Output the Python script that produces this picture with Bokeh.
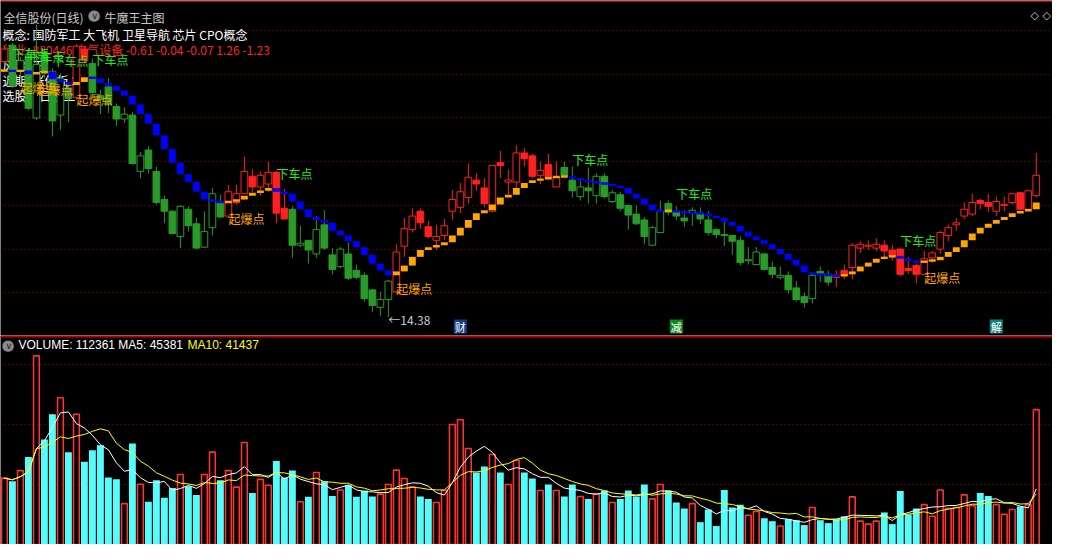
import numpy as np
import pandas as pd
from bokeh.plotting import figure
from bokeh.layouts import column
from bokeh.models import Range1d, FixedTicker, Label, Span
from bokeh.core.properties import value
from bokeh.embed import file_html
from bokeh.resources import INLINE

# ---------------- data ----------------
opens = [
    24.90, 25.58, 24.54, 25.14, 22.58, 25.30, 24.50, 22.70, 23.82, 23.42,
    25.42, 24.82, 23.50, 23.86, 23.06, 22.54, 22.70, 20.38, 21.26, 20.38,
    19.22, 18.74, 17.70, 18.82, 18.22, 17.26, 18.06, 19.10, 18.54, 19.10,
    19.46, 20.18, 19.74, 19.86, 20.34, 18.86, 18.82, 17.34, 17.54, 16.98,
    18.18, 16.94, 16.46, 16.98, 16.30, 16.10, 15.50, 14.78, 15.10, 15.42,
    17.30, 17.98, 18.74, 18.10, 17.54, 17.74, 18.74, 18.90, 19.30, 20.02,
    19.70, 18.74, 20.74, 19.94, 19.94, 21.14, 21.02, 20.22, 20.66, 19.74,
    20.54, 20.02, 19.34, 19.70, 19.38, 20.18, 19.14, 19.42, 18.98, 18.62,
    18.38, 17.34, 17.86, 19.06, 18.74, 18.46, 18.66, 18.66, 18.38, 17.98,
    17.78, 17.74, 17.54, 16.70, 16.54, 16.98, 16.42, 16.02, 16.10, 15.58,
    15.22, 15.14, 16.26, 16.14, 16.10, 16.30, 16.42, 17.22, 17.30, 17.22,
    17.34, 17.14, 17.18, 16.38, 16.50, 16.14, 16.82, 17.18, 17.74, 18.18,
    18.54, 18.62, 19.18, 19.10, 18.74, 18.98, 19.10, 19.50, 18.82, 19.38,
]
highs = [
    25.54, 25.66, 25.10, 25.34, 26.42, 25.42, 24.62, 24.42, 24.02, 25.62,
    25.50, 25.02, 23.74, 24.22, 23.18, 23.02, 22.82, 21.18, 21.42, 20.58,
    19.38, 18.78, 18.98, 18.94, 18.46, 18.74, 19.70, 19.42, 19.82, 19.82,
    20.98, 20.46, 20.38, 20.78, 20.42, 19.66, 18.94, 18.14, 17.54, 18.54,
    18.78, 17.22, 17.26, 17.46, 16.54, 16.22, 15.50, 15.42, 15.90, 17.38,
    18.46, 18.86, 18.86, 18.34, 18.18, 18.42, 19.62, 19.90, 20.70, 20.30,
    20.10, 20.62, 21.22, 20.46, 21.46, 21.34, 21.10, 20.78, 21.10, 20.78,
    20.78, 20.58, 20.02, 20.54, 20.30, 20.30, 19.62, 19.54, 19.02, 18.98,
    18.50, 18.14, 19.18, 19.18, 18.94, 18.78, 18.90, 18.90, 18.74, 18.06,
    18.30, 17.74, 17.70, 17.26, 17.26, 17.02, 16.66, 16.46, 16.26, 15.86,
    15.38, 16.18, 16.46, 16.30, 16.30, 16.54, 17.42, 17.50, 17.54, 17.62,
    17.54, 17.34, 17.22, 16.86, 16.58, 17.10, 17.10, 17.94, 18.18, 18.46,
    19.10, 19.46, 19.26, 19.46, 19.34, 19.34, 19.50, 19.54, 19.62, 21.14,
]
lows = [
    24.78, 23.82, 24.22, 22.90, 22.50, 24.22, 21.82, 22.10, 22.42, 23.34,
    24.82, 23.42, 22.74, 22.78, 22.26, 22.38, 20.66, 20.10, 20.30, 19.02,
    18.26, 17.78, 17.22, 17.90, 17.18, 17.22, 17.74, 18.46, 18.46, 19.02,
    19.46, 19.54, 19.38, 19.54, 18.26, 18.42, 16.82, 17.26, 16.58, 16.82,
    17.14, 16.14, 16.38, 15.90, 15.94, 15.02, 14.58, 14.42, 14.38, 15.34,
    16.86, 17.86, 18.02, 17.62, 17.14, 17.54, 18.38, 18.66, 19.06, 19.58,
    18.90, 18.70, 20.10, 19.42, 19.70, 20.58, 20.10, 19.86, 20.06, 19.74,
    20.18, 19.30, 19.18, 19.06, 19.06, 19.26, 19.06, 18.74, 17.98, 18.18,
    17.38, 17.30, 17.86, 18.58, 18.38, 18.10, 18.14, 18.22, 17.74, 17.62,
    17.30, 16.94, 16.50, 16.54, 16.54, 16.30, 15.98, 15.94, 15.34, 15.02,
    14.78, 14.94, 15.82, 15.66, 15.62, 15.94, 15.94, 17.02, 17.14, 17.10,
    16.82, 16.70, 16.06, 16.14, 15.78, 16.14, 16.62, 16.98, 17.50, 17.94,
    18.42, 18.54, 18.82, 18.70, 18.54, 18.74, 19.02, 18.78, 18.78, 19.30,
]
closes = [
    25.42, 23.90, 24.94, 22.98, 24.78, 24.42, 22.46, 24.22, 23.38, 25.54,
    24.94, 23.62, 23.34, 23.14, 22.54, 22.74, 20.70, 21.02, 20.50, 19.10,
    18.74, 17.82, 18.94, 18.14, 17.22, 17.90, 19.46, 18.50, 19.54, 19.46,
    20.38, 19.74, 20.22, 20.34, 18.66, 18.42, 17.34, 17.42, 17.14, 17.98,
    17.22, 16.34, 17.18, 15.98, 16.02, 15.14, 14.86, 15.10, 15.86, 17.06,
    18.02, 18.54, 18.26, 17.70, 17.70, 18.14, 19.22, 19.54, 20.14, 19.86,
    19.06, 20.62, 20.62, 20.02, 21.14, 20.90, 20.18, 20.42, 20.14, 20.14,
    20.22, 19.58, 19.74, 19.58, 20.18, 19.34, 19.50, 18.86, 18.58, 18.22,
    17.70, 18.06, 18.74, 18.70, 18.54, 18.34, 18.78, 18.42, 17.86, 17.78,
    17.74, 17.50, 16.62, 16.74, 17.06, 16.34, 16.14, 16.10, 15.50, 15.10,
    14.98, 16.10, 16.18, 15.82, 16.02, 16.10, 17.34, 17.38, 17.34, 17.38,
    17.10, 16.90, 16.14, 16.30, 16.14, 16.78, 17.02, 17.86, 18.06, 18.26,
    18.82, 19.10, 19.06, 18.94, 19.14, 19.02, 19.46, 18.82, 19.58, 20.22,
]
# candle colour state per bar (r = red, g = green)
trend = ("r" "gggggggg" "rr" "ggggggggggggggggg" "rrrrrrrr" "ggggggggggggg"
         "rrrrrrrrrrrrrrrrrrrrr" "gggggggggggggggggggggggggggggggggg"
         "rrrrrrrrrrrrrrrrrrrrrrrrrr")
# 牛魔王 trend line
signal_line = [
    24.54, 24.50, 24.54, 24.38, 24.46, 24.50, 24.18, 24.06, 23.94, 24.06,
    24.26, 24.22, 24.02, 23.90, 23.70, 23.50, 23.14, 22.74, 22.34, 21.86,
    21.30, 20.74, 20.26, 19.94, 19.54, 19.22, 19.14, 19.10, 19.14, 19.22,
    19.38, 19.50, 19.58, 19.70, 19.54, 19.46, 19.14, 18.82, 18.50, 18.38,
    18.26, 17.94, 17.74, 17.50, 17.26, 16.94, 16.58, 16.30, 16.10, 16.26,
    16.50, 16.86, 17.14, 17.26, 17.34, 17.46, 17.74, 18.06, 18.38, 18.66,
    18.78, 19.02, 19.30, 19.42, 19.70, 19.90, 20.02, 20.06, 20.14, 20.16,
    20.18, 20.10, 20.02, 19.94, 19.90, 19.86, 19.78, 19.70, 19.46, 19.26,
    19.02, 18.78, 18.74, 18.78, 18.70, 18.68, 18.66, 18.64, 18.55, 18.46,
    18.31, 18.14, 17.90, 17.70, 17.54, 17.38, 17.18, 16.98, 16.74, 16.50,
    16.22, 16.14, 16.12, 16.10, 16.06, 16.14, 16.26, 16.46, 16.62, 16.78,
    16.86, 16.90, 16.78, 16.70, 16.62, 16.70, 16.72, 16.86, 17.06, 17.26,
    17.54, 17.82, 18.06, 18.22, 18.38, 18.50, 18.66, 18.74, 18.82, 19.10,
]
volumes = [
    55300, 52650, 61560, 72900, 157140, 87480, 108540, 122310, 76950, 108540,
    68850, 78570, 82620, 55890, 54270, 34020, 84240, 50220, 35640, 53460,
    38880, 46980, 58320, 48600, 41310, 58320, 76950, 53460, 61560, 47790,
    85050, 42930, 54270, 49410, 69660, 55890, 61560, 35640, 39690, 59940,
    52650, 40500, 45360, 49410, 39690, 45000, 40000, 42000, 50000, 62000,
    55000, 48000, 40000, 38000, 35000, 45000, 100000, 104000, 80000, 60000,
    65000, 75000, 60000, 50000, 70000, 60000, 55000, 45000, 50000, 45000,
    40000, 50000, 40000, 38000, 42000, 45000, 35000, 38000, 45000, 40000,
    50000, 38000, 50000, 45000, 35000, 30000, 34020, 18630, 29160, 15390,
    45360, 30780, 33210, 24300, 27540, 21870, 19440, 15390, 21060, 20250,
    16200, 30780, 20250, 17820, 21060, 23490, 39690, 19440, 17010, 19440,
    26730, 17010, 44550, 25110, 29970, 33210, 23490, 45360, 29970, 30780,
    41310, 32400, 42930, 40500, 33210, 25110, 29160, 31590, 33210, 112361,
]
qibao_idx = [2, 4, 9, 28, 49, 115]            # 起爆点
xiache_idx = [1, 3, 6, 11, 34, 71, 84, 112]   # 下车点
badge_idx = [57, 84, 124]
badge_text = ["财", "减", "解"]
badge_color = ["#0D3F86", "#0F8A1F", "#11807F"]
price_grid = [26.18, 24.38, 22.58, 20.78, 18.98, 17.18, 15.38]
vol_grid = [50000, 100000, 150000]

# ---------------- build ----------------
CJK = "Noto Sans CJK SC"
O = np.array(opens); H = np.array(highs); L = np.array(lows); C = np.array(closes)
N = len(C)
idx = np.arange(N)
hollow = C > O
RED = "#FF2020"
GREEN = "#2A9A2A"
ccol = [RED if t == "r" else GREEN for t in trend[:N]]
fcol = ["#000000" if h else c for h, c in zip(hollow, ccol)]
btop = np.maximum(O, C)
bbot = np.minimum(O, C)

W = 1052
PH = 335
VH = 209
xr = Range1d(-0.49, 131.03)
YMIN, YMAX = 13.62, 27.42
px = (YMAX - YMIN) / PH  # price per screen pixel

p = figure(width=W, height=PH, x_range=xr, y_range=Range1d(YMIN, YMAX),
           output_backend="svg", toolbar_location=None, min_border=0,
           background_fill_color="#000000", border_fill_color="#000000",
           outline_line_color=None)
p.xaxis.visible = False
p.yaxis.visible = False
p.xgrid.visible = False
p.ygrid.ticker = FixedTicker(ticks=price_grid)
p.ygrid.grid_line_color = "#9A0000"
p.ygrid.grid_line_dash = "1 3"
p.ygrid.grid_line_width = 1

p.add_layout(Span(location=YMAX - px, dimension="width", line_color="#C00000", line_width=1))

def info(text, x, ytop, color, size="12px", font=CJK, level="underlay"):
    lab = Label(x=x, y=PH - ytop, x_units="screen", y_units="screen", text=text,
                text_color=color, text_font=font, text_font_size=size,
                text_baseline="top", text_align="left", level=level)
    p.add_layout(lab)

info("全信股份(日线)", 3, 8, "#C8C8C8", level="annotation")
info("●", 87, 5, "#8A8A8A", size="15px", font="DejaVu Sans", level="annotation")
info("∨", 91, 10, "#202020", size="9px", font="DejaVu Sans", level="annotation")
info("牛魔王主图", 104, 8, "#C8C8C8", level="annotation")
info("◇", 1042, 8, "#D0D0D0", size="11px", font="DejaVu Sans", level="annotation")
info("◇", 1030, 8, "#D0D0D0", size="11px", font="DejaVu Sans", level="annotation")
info("概念: 国防军工 大飞机 卫星导航 芯片 CPO概念", 2, 25, "#FFFFFF")
info("行业: 880446 电气设备 -0.61 -0.04 -0.07 1.26 -1.23", 2, 40, "#FF2020")
info("风险: 无", 2, 56, "#FFFFFF")
info("近期: 涨停板 3", 2, 71, "#FFFFFF")
info("选股: 5日线上", 2, 86, "#FFFFFF")

# candles
p.segment(x0=idx, y0=H, x1=idx, y1=L, line_color=ccol, line_width=1)
p.vbar(x=idx, top=btop, bottom=bbot, width=0.84, fill_color=fcol, line_color=ccol, line_width=1)

# trend line sticks (from previous value to current value)
sig = np.array(signal_line)
prev = np.concatenate([[sig[0]], sig[:-1]])
rising = sig >= prev
lo = np.minimum(sig, prev)
hi = np.maximum(sig, prev)
mid = (lo + hi) / 2
thin = (hi - lo) < 0.1
lo = np.where(thin, mid - 0.05, lo)
hi = np.where(thin, mid + 0.05, hi)
scol = ["#FFA500" if r else "#0000FF" for r in rising]
p.vbar(x=idx, top=hi, bottom=lo, width=0.86, fill_color=scol, line_color=None)

# signal labels
p.text(x=qibao_idx, y=[sig[i] - 0.7 for i in qibao_idx], text=["起爆点"] * len(qibao_idx),
       text_color="#FFA500", text_font=value(CJK), text_font_size="12px",
       text_align="left", text_baseline="middle")
p.text(x=xiache_idx, y=[sig[i] + 0.75 for i in xiache_idx], text=["下车点"] * len(xiache_idx),
       text_color="#22EE22", text_font=value(CJK), text_font_size="12px",
       text_align="left", text_baseline="middle")

# lowest low marker
li = int(np.argmin(L))
p.text(x=[li], y=[L[li] - 0.12], text=["←%.2f" % L[li]], text_color="#C8C8C8",
       text_font=value(CJK), text_font_size="12px", text_align="left", text_baseline="middle")

# event badges (kept fully inside the panel)
by = YMIN + 9 * px
p.rect(x=badge_idx, y=[by] * len(badge_idx), width=13, height=14,
       width_units="screen", height_units="screen", fill_color=badge_color, line_color=None)
p.text(x=badge_idx, y=[by] * len(badge_idx), text=badge_text, text_color="#FFFFFF",
       text_font=value(CJK), text_font_size="11px", text_align="center", text_baseline="middle")

# ---------------- volume panel ----------------
vol = np.array(volumes, dtype=float)
VMAX = 174150
v = figure(width=W, height=VH, x_range=xr, y_range=Range1d(0, VMAX),
           output_backend="svg", toolbar_location=None, min_border=0,
           background_fill_color="#000000", border_fill_color="#000000",
           outline_line_color=None)
v.xaxis.visible = False
v.yaxis.visible = False
v.xgrid.visible = False
v.ygrid.ticker = FixedTicker(ticks=vol_grid)
v.ygrid.grid_line_color = "#9A0000"
v.ygrid.grid_line_dash = "1 3"
v.add_layout(Span(location=VMAX * (1 - 1.0 / VH), dimension="width", line_color="#C00000", line_width=2))

v.vbar(x=idx[~hollow], top=vol[~hollow], bottom=0, width=0.86,
       fill_color="#54FCFC", line_color=None)
v.vbar(x=idx[hollow], top=vol[hollow], bottom=0, width=0.72,
       fill_color=None, line_color="#FF3232", line_width=1.6)
ma5 = pd.Series(vol).rolling(5, min_periods=1).mean()
ma10 = pd.Series(vol).rolling(10, min_periods=1).mean()
v.line(idx, ma5, line_color="#FFFFFF", line_width=1)
v.line(idx, ma10, line_color="#FFFF00", line_width=1)

def vinfo(text, x, ytop, color, size="12px", font="Liberation Sans"):
    v.add_layout(Label(x=x, y=VH - ytop, x_units="screen", y_units="screen", text=text,
                       text_color=color, text_font=font, text_font_size=size,
                       text_baseline="top", text_align="left"))

vinfo("●", 1, 0, "#8A8A8A", size="15px", font="DejaVu Sans")
vinfo("∨", 5, 5, "#202020", size="9px", font="DejaVu Sans")
vinfo("VOLUME: 112361  MA5: 45381", 18, 2, "#FFFFFF")
vinfo("MA10: 41437", 187, 2, "#FFFF00")

layout = column(p, v, spacing=0)
open("out.html", "w").write(file_html(layout, INLINE))
